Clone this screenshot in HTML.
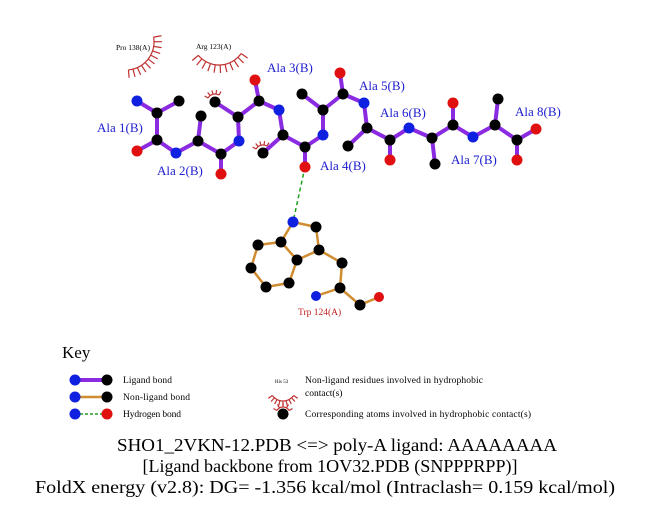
<!DOCTYPE html>
<html><head><style>
body{margin:0;background:#fff;}
svg{display:block;}
</style></head><body>
<svg id="s" width="651" height="511" xmlns="http://www.w3.org/2000/svg" font-family="Liberation Serif, serif">
<g id="hyd" stroke="#c03030" stroke-width="1.2" fill="none"></g>
<g id="bonds"></g>
<line x1="305" y1="167" x2="293" y2="222" stroke="#20a020" stroke-width="1.5" stroke-dasharray="4,3"/>
<g id="atoms"></g>
<g fill="#2020d0" font-size="13">
<text x="97" y="132">Ala 1(B)</text>
<text x="157" y="175">Ala 2(B)</text>
<text x="267" y="72">Ala 3(B)</text>
<text x="320" y="170">Ala 4(B)</text>
<text x="359" y="90">Ala 5(B)</text>
<text x="380" y="117">Ala 6(B)</text>
<text x="451" y="164">Ala 7(B)</text>
<text x="515" y="116">Ala 8(B)</text>
</g>
<text x="298" y="315" fill="#c02020" font-size="9.5">Trp 124(A)</text>
<text x="116" y="50" font-size="7.5">Pro 138(A)</text>
<text x="196" y="49" font-size="7.5">Arg 123(A)</text>
<text x="62" y="358" font-size="17">Key</text>
<g font-size="9.5">
<text x="123" y="383" textLength="49">Ligand bond</text>
<text x="123" y="400" textLength="67">Non-ligand bond</text>
<text x="123" y="417" textLength="58">Hydrogen bond</text>
<text x="305" y="383" textLength="178">Non-ligand residues involved in hydrophobic</text>
<text x="305" y="396">contact(s)</text>
<text x="305" y="417" textLength="226">Corresponding atoms involved in hydrophobic contact(s)</text>
<text x="275" y="383" font-size="5">His 53</text>
</g>
<g font-size="18" text-anchor="middle">
<text x="337" y="451" textLength="440" lengthAdjust="spacingAndGlyphs">SHO1_2VKN-12.PDB &lt;=&gt; poly-A ligand: AAAAAAAA</text>
<text x="330" y="472" textLength="375" lengthAdjust="spacingAndGlyphs">[Ligand backbone from 1OV32.PDB (SNPPPRPP)]</text>
<text x="325" y="493" textLength="580" lengthAdjust="spacingAndGlyphs">FoldX energy (v2.8): DG= -1.356 kcal/mol (Intraclash= 0.159 kcal/mol)</text>
</g>
</svg>
<script>
var NS="http://www.w3.org/2000/svg";
var A={N1:[137,101,'b'],CB1:[179,101,'k'],CA1:[157,113,'k'],C1:[157,140,'k'],O1:[137,151,'r'],
N2:[176,153,'b'],CA2:[198,141,'k'],CB2:[201,116,'k'],C2:[221,154,'k'],O2:[221,174,'r'],
N3:[239,141,'b'],CA3:[238,117,'k'],CB3:[215,102,'k'],C3:[259,101,'k'],O3:[255,80,'r'],
N4:[279,110,'b'],CA4:[283,135,'k'],CB4:[263,153,'k'],C4:[305,147,'k'],O4:[305,167,'r'],
N5:[323,135,'b'],CA5:[323,110,'k'],CB5:[302,94,'k'],C5:[343,94,'k'],O5:[340,73,'r'],
N6:[364,103,'b'],CA6:[367,128,'k'],CB6:[348,146,'k'],C6:[390,140,'k'],O6:[390,160,'r'],
N7:[409,128,'b'],CA7:[432,138,'k'],CB7:[435,164,'k'],C7:[453,125,'k'],O7:[453,103,'r'],
N8:[473,137,'b'],CA8:[495,125,'k'],CB8:[498,99,'k'],C8:[517,140,'k'],O8:[536,129,'r'],OX:[517,160,'r'],
NE1:[293,222,'b'],CD1:[316,227,'k'],CG:[319,250,'k'],CD2:[297,260,'k'],CE2:[281,242,'k'],
CZ2:[258,245,'k'],CH2:[251,268,'k'],CZ3:[266,287,'k'],CE3:[289,283,'k'],TCB:[342,263,'k'],
TCA:[340,288,'k'],TN:[316,296,'b'],TC:[360,305,'k'],TO:[379,297,'r'],
k1:[75,380,'b'],k2:[107,380,'k'],k3:[75,397,'b'],k4:[107,397,'k'],k5:[75,414,'b'],k6:[107,414,'r'],k7:[283,414,'k']};
var L=[];
for(var i=1;i<=8;i++){L.push(['N'+i,'CA'+i],['CA'+i,'CB'+i],['CA'+i,'C'+i],['C'+i,'O'+i]);if(i<8)L.push(['C'+i,'N'+(i+1)]);}
L.push(['C8','OX']);
var T=[['NE1','CD1'],['CD1','CG'],['CG','CD2'],['CD2','CE2'],['CE2','NE1'],['CE2','CZ2'],['CZ2','CH2'],['CH2','CZ3'],['CZ3','CE3'],['CE3','CD2'],['CG','TCB'],['TCB','TCA'],['TCA','TN'],['TCA','TC'],['TC','TO'],['k3','k4']];
var g=document.getElementById('bonds');
function ln(a,b,c,w,p){var e=document.createElementNS(NS,'line');e.setAttribute('x1',a[0]);e.setAttribute('y1',a[1]);e.setAttribute('x2',b[0]);e.setAttribute('y2',b[1]);e.setAttribute('stroke',c);e.setAttribute('stroke-width',w);(p||g).appendChild(e);return e;}
L.concat([['k1','k2']]).forEach(function(b){ln(A[b[0]],A[b[1]],'#8a2be2',4);});
T.forEach(function(b){ln(A[b[0]],A[b[1]],'#d08c30',2.5);});
var d=ln(A.k5,A.k6,'#20a020',1.5);d.setAttribute('stroke-dasharray','3,2');
var ag=document.getElementById('atoms');var col={b:'#1020e0',k:'#000',r:'#e01010'};
for(var k in A){var a=A[k];var c=document.createElementNS(NS,'circle');c.setAttribute('cx',a[0]);c.setAttribute('cy',a[1]);c.setAttribute('r',k[0]=='T'&&k!='TCB'&&k!='TCA'&&k!='TC'?5:(['TN','TO'].indexOf(k)>=0?4.5:5.5));c.setAttribute('fill',col[a[2]]);ag.appendChild(c);}
var h=document.getElementById('hyd');
function arc(cx,cy,r,a0,a1,n,sp){var p='';for(var i=0;i<=20;i++){var t=(a0+(a1-a0)*i/20)*Math.PI/180;p+=(i?'L':'M')+(cx+r*Math.cos(t))+','+(cy+r*Math.sin(t));}
var e=document.createElementNS(NS,'path');e.setAttribute('d',p);h.appendChild(e);
for(var i=0;i<n;i++){var t=(a0+(a1-a0)*i/(n-1))*Math.PI/180;var l=document.createElementNS(NS,'line');l.setAttribute('x1',cx+r*Math.cos(t));l.setAttribute('y1',cy+r*Math.sin(t));l.setAttribute('x2',cx+(r+sp)*Math.cos(t));l.setAttribute('y2',cy+(r+sp)*Math.sin(t));h.appendChild(l);}}
arc(126,42,28,85,-10,11,8);
arc(219,38,27,140,35,11,8);
arc(283,388,13,35,145,9,5);
arc(215,102,8,-150,-60,5,4);
arc(263,153,8,-150,-60,5,4);
arc(283,414,7,-150,-30,5,4);
</script>
</body></html>
